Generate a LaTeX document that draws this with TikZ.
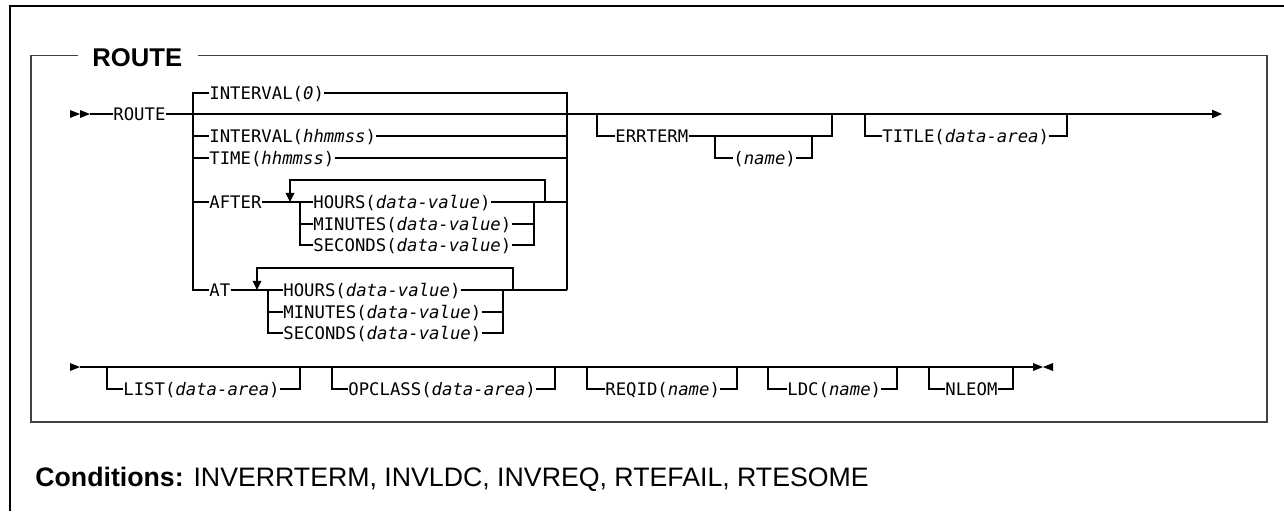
\documentclass[tikz,border=0pt]{standalone}
\usepackage{fontspec}
\setmainfont{Liberation Sans}
\newfontfamily\railfont{DejaVu Sans Mono}
\usetikzlibrary{arrows.meta, calc}

\begin{document}
\begin{tikzpicture}[x=0.02cm, y=-0.02cm,
    kw/.style={font=\railfont\fontsize{9.85}{12}\selectfont, inner sep=0pt,
        text height=7.2pt, text depth=0pt, anchor=west},
    rail/.style={line width=0.7pt},
    loop/.style={line width=0.7pt, -{Triangle[length=5.2pt, width=5pt]}},
    frame/.style={line width=1pt, black!75}]

    \useasboundingbox (0,0) rectangle (1284,511);

    % outer page frame (open to the right and below)
    \draw[line width=0.9pt] (10,511) -- (10,6) -- (1284,6);

    % inner frame with title
    \node[anchor=base west, inner sep=0pt, font=\bfseries\fontsize{14.6}{17}\selectfont] (title) at (92,66) {ROUTE};
    \draw[frame] (78,55.5) -- (31,55.5) -- (31,422) -- (1267,422) -- (1267,55.5) -- (198,55.5);

    % start of the main line
    \fill (70,110) -- (80,114) -- (70,118) -- cycle;
    \fill (80,110) -- (90,114) -- (80,118) -- cycle;
    \coordinate (start) at (90,114);
    \node[kw] (route) at (113,114) {ROUTE};
    \draw[rail] (start) -- (route.west);

    % rails of the time choice
    \coordinate (lv) at (193,114);
    \coordinate (rv) at (567,114);
    \coordinate (end1) at (1222,114);
    \draw[rail] (route.east) -- (lv) -- (rv);
    \draw[rail, -{Triangle[length=5.7pt, width=4.8pt]}] (rv) -- (end1);

    % the time choice
    \node[kw] (int0) at (209,93) {INTERVAL(\textit{0})};
    \node[kw] (inthms) at (209,136) {INTERVAL(\textit{hhmmss})};
    \node[kw] (time) at (209,158) {TIME(\textit{hhmmss})};
    \node[kw] (after) at (209,202) {AFTER};
    \node[kw] (at) at (209,290) {AT};
    \draw[rail] (int0.west) -| (at.west -| lv) -- (at.west);
    \draw[rail] (inthms.west -| lv) -- (inthms.west);
    \draw[rail] (time.west -| lv) -- (time.west);
    \draw[rail] (after.west -| lv) -- (after.west);
    \draw[rail] (int0.east) -| (at.west -| rv);
    \draw[rail] (inthms.east) -- (inthms.east -| rv);
    \draw[rail] (time.east) -- (time.east -| rv);

    % AFTER: repeatable units
    \coordinate (afin) at (290,202);
    \coordinate (aflv) at (300,202);
    \coordinate (afrv) at (534,202);
    \coordinate (afback) at (545,180);
    \node[kw] (afhours) at (313,202) {HOURS(\textit{data-value})};
    \node[kw] (afmins) at (313,224) {MINUTES(\textit{data-value})};
    \node[kw] (afsecs) at (313,245) {SECONDS(\textit{data-value})};
    \draw[rail] (after.east) -- (afhours.west);
    \draw[rail] (aflv) |- (afsecs.west);
    \draw[rail] (afmins.west -| aflv) -- (afmins.west);
    \draw[rail] (afhours.east) -- (afhours.east -| rv);
    \draw[rail] (afmins.east) -- (afmins.east -| afrv);
    \draw[rail] (afsecs.east) -| (afrv);
    \draw[loop] (afback |- afhours.east) -- (afback) -| (afin);

    % AT: repeatable units
    \coordinate (atin) at (257,290);
    \coordinate (atlv) at (268,290);
    \coordinate (atrv) at (503,290);
    \coordinate (atback) at (513,268);
    \node[kw] (athours) at (283,290) {HOURS(\textit{data-value})};
    \node[kw] (atmins) at (283,312) {MINUTES(\textit{data-value})};
    \node[kw] (atsecs) at (283,333) {SECONDS(\textit{data-value})};
    \draw[rail] (at.east) -- (athours.west);
    \draw[rail] (atlv) |- (atsecs.west);
    \draw[rail] (atmins.west -| atlv) -- (atmins.west);
    \draw[rail] (athours.east) -- (athours.east -| rv);
    \draw[rail] (atmins.east) -- (atmins.east -| atrv);
    \draw[rail] (atsecs.east) -| (atrv);
    \draw[loop] (atback |- athours.east) -- (atback) -| (atin);

    % ERRTERM with optional name
    \coordinate (errin) at (597,114);
    \coordinate (errout) at (832,114);
    \node[kw] (errterm) at (615,136) {ERRTERM};
    \draw[rail] (errin) |- (errterm.west);
    \draw[rail] (errterm.east) -| (errout);
    \coordinate (namein) at (715,136);
    \coordinate (nameout) at (812,136);
    \node[kw] (errname) at (733,158) {(\textit{name})};
    \draw[rail] (namein) |- (errname.west);
    \draw[rail] (errname.east) -| (nameout);

    % TITLE
    \coordinate (titlein) at (865,114);
    \coordinate (titleout) at (1067,114);
    \node[kw] (titlearea) at (882,136) {TITLE(\textit{data-area})};
    \draw[rail] (titlein) |- (titlearea.west);
    \draw[rail] (titlearea.east) -| (titleout);

    % second line
    \fill (70,363) -- (80,367) -- (70,371) -- cycle;
    \coordinate (cont) at (80,367);
    \coordinate (stop) at (1033,367);
    \draw[rail] (cont) -- (stop);
    \fill (1033,363) -- (1043,367) -- (1033,371) -- cycle;
    \fill (1053,363) -- (1043,367) -- (1053,371) -- cycle;

    % LIST
    \coordinate (listin) at (107,367);
    \coordinate (listout) at (300,367);
    \node[kw] (list) at (123,389) {LIST(\textit{data-area})};
    \draw[rail] (listin) |- (list.west);
    \draw[rail] (list.east) -| (listout);

    % OPCLASS
    \coordinate (opin) at (332,367);
    \coordinate (opout) at (555,367);
    \node[kw] (opclass) at (348,389) {OPCLASS(\textit{data-area})};
    \draw[rail] (opin) |- (opclass.west);
    \draw[rail] (opclass.east) -| (opout);

    % REQID
    \coordinate (reqin) at (587,367);
    \coordinate (reqout) at (737,367);
    \node[kw] (reqid) at (605,389) {REQID(\textit{name})};
    \draw[rail] (reqin) |- (reqid.west);
    \draw[rail] (reqid.east) -| (reqout);

    % LDC
    \coordinate (ldcin) at (768,367);
    \coordinate (ldcout) at (897,367);
    \node[kw] (ldc) at (787,389) {LDC(\textit{name})};
    \draw[rail] (ldcin) |- (ldc.west);
    \draw[rail] (ldc.east) -| (ldcout);

    % NLEOM
    \coordinate (nlin) at (929,367);
    \coordinate (nlout) at (1013,367);
    \node[kw] (nleom) at (945,389) {NLEOM};
    \draw[rail] (nlin) |- (nleom.west);
    \draw[rail] (nleom.east) -| (nlout);

    % conditions
    \node[anchor=base west, inner sep=0pt, font=\fontsize{15.2}{18}\selectfont] (cond) at (35,486.5)
        {\textbf{Conditions:} INVERRTERM, INVLDC, INVREQ, RTEFAIL, RTESOME};

\end{tikzpicture}
\end{document}
